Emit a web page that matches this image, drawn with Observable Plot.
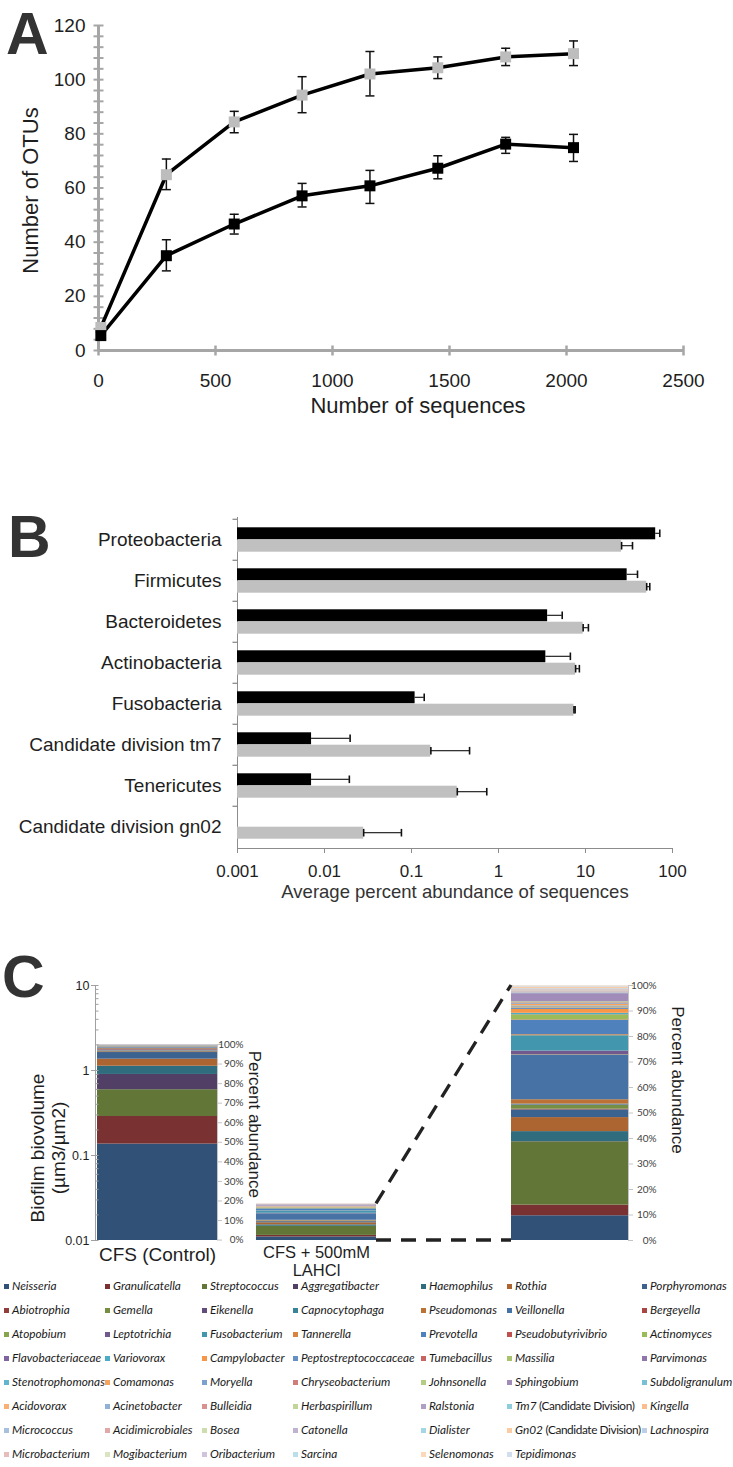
<!DOCTYPE html>
<html><head><meta charset="utf-8">
<script src="https://cdn.jsdelivr.net/npm/d3@7"></script>
<script src="https://cdn.jsdelivr.net/npm/@observablehq/plot@0.6"></script>
<style>
body{margin:0;background:#fff;}
#root{position:relative;width:733px;height:1467px;overflow:hidden;background:#fff;}
#root svg{position:absolute;left:0;overflow:visible;}
.lg{position:absolute;height:13px;line-height:13px;white-space:nowrap;font:italic 11.8px Lato,Carlito,Calibri,"Liberation Sans",sans-serif;color:#1a1a1a;}
.lg i{display:inline-block;width:5px;height:5px;margin-right:3px;vertical-align:1px;}
.lg span.n{font-style:normal;letter-spacing:-0.4px;}
</style></head><body><div id="root"></div>
<script>
// ---------------- Panel A data ----------------
const seqDepth   = [10, 290, 580, 870, 1160, 1450, 1740, 2030];
const otuGray    = [8.5, 64.9, 84.4, 94.3, 102.1, 104.4, 108.4, 109.6];
const otuGrayLo  = [8.5, 59.4, 80.4, 87.8, 94.0, 100.4, 105.2, 105.2];
const otuGrayHi  = [8.5, 70.7, 88.3, 101.1, 110.4, 108.4, 111.6, 114.3];
const otuBlack   = [5.5, 35.0, 46.7, 57.1, 60.8, 67.3, 76.2, 74.9];
const otuBlackLo = [5.5, 29.4, 43.0, 53.0, 54.3, 63.4, 72.8, 69.8];
const otuBlackHi = [5.5, 40.9, 50.3, 61.7, 66.5, 71.9, 78.7, 79.8];
const aTicksX = [0, 500, 1000, 1500, 2000, 2500];
const aTicksY = [0, 20, 40, 60, 80, 100, 120];
const aMinorY = [0,4,8,12,16,20,24,28,32,36,40,44,48,52,56,60,64,68,72,76,80,84,88,92,96,100,104,108,112,116,120];

// ---------------- Panel B data ----------------
const phyla = ["Proteobacteria","Firmicutes","Bacteroidetes","Actinobacteria","Fusobacteria","Candidate division tm7","Tenericutes","Candidate division gn02"];
const abundBlack = [64.1, 30.1, 3.67, 3.50, 0.110, 0.0071, 0.0071, null];
const errBlack   = [7.3, 9.5, 1.73, 3.2, 0.030, 0.0126, 0.0122, null];
const abundGray  = [26.0, 50.5, 9.4, 7.7, 7.37, 0.167, 0.336, 0.0282];
const errGray    = [8.7, 4.3, 1.4, 0.8, 0.23, 0.298, 0.397, 0.0484];
const bTicks = [0.001, 0.01, 0.1, 1, 10, 100];

// ---------------- Panel C data ----------------
const conditions = ["CFS (Control)", "CFS + 500mM\nLAHCl"];
const biovolume = [2.0, 0.027];
const volTicks = [0.01, 0.1, 1, 10];
const volMinor = [0.02,0.03,0.04,0.05,0.06,0.07,0.08,0.09,0.2,0.3,0.4,0.5,0.6,0.7,0.8,0.9,2,3,4,5,6,7,8,9];
const pctTicks = [0,10,20,30,40,50,60,70,80,90,100];
const genera = ["Neisseria","Granulicatella","Streptococcus","Aggregatibacter","Haemophilus","Rothia","Porphyromonas",
"Abiotrophia","Gemella","Eikenella","Capnocytophaga","Pseudomonas","Veillonella","Bergeyella",
"Atopobium","Leptotrichia","Fusobacterium","Tannerella","Prevotella","Pseudobutyrivibrio","Actinomyces",
"Flavobacteriaceae","Variovorax","Campylobacter","Peptostreptococcaceae","Tumebacillus","Massilia","Parvimonas",
"Stenotrophomonas","Comamonas","Moryella","Chryseobacterium","Johnsonella","Sphingobium","Subdoligranulum",
"Acidovorax","Acinetobacter","Bulleidia","Herbaspirillum","Ralstonia","Tm7 (Candidate Division)","Kingella",
"Micrococcus","Acidimicrobiales","Bosea","Catonella","Dialister","Gn02 (Candidate Division)","Lachnospira",
"Microbacterium","Mogibacterium","Oribacterium","Sarcina","Selenomonas","Tepidimonas"];
const genusColors = ["#325177","#793231","#627638","#513f66","#2f6c7d","#ac6530",
"#3c6290","#923d3b","#768e44","#614c7b","#398396","#bc7235",
"#4672a6","#a94644","#88a54e","#71588f","#4297ae","#d9843e",
"#4f81bd","#c0504d","#9bbb59","#8064a2","#4bacc6","#f79646",
"#6490c5","#c86562","#a7c36d","#8f77ad","#61b6cd","#f8a35c",
"#7ba1ce","#d07c7a","#b4cc83","#a08bb9","#78c1d4","#f9b074",
"#92b1d6","#d89391","#c1d598","#b09fc5","#8fccdc","#fabe8c",
"#a7c0de","#e0a8a6","#cdddac","#c0b2d1","#a5d6e3","#fbcba3",
"#bccfe6","#e7bdbb","#d9e5c0","#cfc4dc","#bbdfe9","#fcd7b9","#d1deee"];
const pctControl = [49.3,14.1,13.7,7.8,4.2,3.6,3.4,0.3,0.2,0.2,0.2,0.1,0.3,0.6,0.2,0.3,0.2,0.1,0.2,0.1,0.2,0.1,0.1,0.1,0.1,0,0.1,0.1,0,0,0,0,0,0.1,0,0,0,0,0,0,0,0,0,0,0,0,0,0,0,0,0,0,0,0,0];
const pctLahcl = [9.7,4.2,24.8,0.1,3.9,5.5,3.0,0.3,1.5,0.2,0.3,1.7,17.5,0.1,0.1,1.4,6.0,0.4,5.6,0.2,2.0,0.1,0.5,1.5,0.4,0.2,0.4,0.2,0.2,0.6,0.3,0.3,0.4,3.2,0.1,0.1,0.2,0.2,0.1,0.3,0.1,0.2,0.2,0.2,0.1,0.1,0.1,0.4,0.1,0.1,0.1,0.1,0.1,0.2,0.1];

// ---------------- styles / helpers ----------------
const FONT = "'Liberation Sans', Arial, Helvetica, sans-serif";
const SMALL = "Lato, Carlito, Calibri, 'Liberation Sans', sans-serif";
const INK = "#1e1e1e";
const AXA = "#a6a6a6";
const root = document.getElementById("root");
function place(el, top){ el.style.position = "absolute"; el.style.left = "0px"; el.style.top = top + "px"; root.appendChild(el); return el; }
const styleWith = color => ({fontFamily: FONT, color, background: "transparent", overflow: "visible"});
const sym = f => ({draw(ctx, size){ const w = Math.sqrt(size / Math.PI); f(ctx, w); }});
const hLine = sym((c, w) => { c.moveTo(-w, 0); c.lineTo(w, 0); });
const vLine = sym((c, w) => { c.moveTo(0, -w); c.lineTo(0, w); });
const tickRight = sym((c, w) => { c.moveTo(0, 0); c.lineTo(w, 0); });
const tickLeft = sym((c, w) => { c.moveTo(-w, 0); c.lineTo(0, 0); });
function scaleFn(plot, name){
  const s = plot.scale(name);
  if (s && typeof s.apply === "function") return v => s.apply(v);
  const d = s.type === "log" ? d3.scaleLog() : d3.scaleLinear();
  d.domain(s.domain).range(s.range);
  return v => d(v);
}

// ================= Panel A =================
const rowsA = seqDepth.map((x, i) => ({x, g: otuGray[i], gLo: otuGrayLo[i], gHi: otuGrayHi[i], b: otuBlack[i], bLo: otuBlackLo[i], bHi: otuBlackHi[i]}));
const errA = rowsA.filter(d => d.gHi > d.gLo);
const capA = {symbol: hLine, r: 4.5, stroke: "#111", strokeWidth: 1.5, fill: "none"};
const plotA = Plot.plot({
  width: 733, height: 450, marginLeft: 98, marginRight: 50, marginTop: 25, marginBottom: 100,
  x: {type: "linear", domain: [0, 2500], axis: null},
  y: {type: "linear", domain: [0, 120], axis: null},
  style: styleWith(INK),
  marks: [
    Plot.ruleX([0], {stroke: AXA, strokeWidth: 3}),
    Plot.ruleY([0], {stroke: AXA, strokeWidth: 3}),
    Plot.dot(aMinorY, {y: d => d, frameAnchor: "left", symbol: hLine, r: 5, stroke: AXA, strokeWidth: 2, fill: "none"}),
    Plot.dot(aTicksX, {x: d => d, frameAnchor: "bottom", symbol: vLine, r: 5, stroke: AXA, strokeWidth: 2.5, fill: "none"}),
    Plot.text(aTicksY, {y: d => d, text: d => String(d), frameAnchor: "left", textAnchor: "end", dx: -13, fontSize: 19, fill: INK}),
    Plot.text(aTicksX, {x: d => d, text: d => String(d), frameAnchor: "bottom", lineAnchor: "top", dy: 23, fontSize: 19, fill: INK}),
    Plot.text(["Number of sequences"], {text: d => d, frameAnchor: "bottom", textAnchor: "middle", dx: 27, dy: 62, fontSize: 22, fill: INK}),
    Plot.text(["Number of OTUs"], {text: d => d, frameAnchor: "left", textAnchor: "middle", rotate: -90, dx: -68, dy: 2.5, fontSize: 22, fill: INK}),
    Plot.ruleX(errA, {x: "x", y1: "gLo", y2: "gHi", stroke: "#111", strokeWidth: 1.5}),
    Plot.dot(errA, {x: "x", y: "gLo", ...capA}),
    Plot.dot(errA, {x: "x", y: "gHi", ...capA}),
    Plot.ruleX(errA, {x: "x", y1: "bLo", y2: "bHi", stroke: "#111", strokeWidth: 1.5}),
    Plot.dot(errA, {x: "x", y: "bLo", ...capA}),
    Plot.dot(errA, {x: "x", y: "bHi", ...capA}),
    Plot.line(rowsA, {x: "x", y: "g", stroke: "#000", strokeWidth: 3.5}),
    Plot.line(rowsA, {x: "x", y: "b", stroke: "#000", strokeWidth: 3.5}),
    Plot.dot(rowsA, {x: "x", y: "g", symbol: "square", r: 6.2, fill: "#bdbdbd"}),
    Plot.dot(rowsA, {x: "x", y: "b", symbol: "square", r: 6.2, fill: "#000"})
  ]
});
place(plotA, 0);

// ================= Panel B =================
const bBase = bTicks[0];
const rowsB = phyla.map((cat, i) => ({cat, b: abundBlack[i], bHi: abundBlack[i] == null ? null : abundBlack[i] + errBlack[i], g: abundGray[i], gHi: abundGray[i] + errGray[i]}));
const rowsBb = rowsB.filter(d => d.b != null);
const BAX = "#8c8c8c";
const BW = 41.4; // band height in px (layout)
const plotB = Plot.plot({
  width: 733, height: 440, marginLeft: 237, marginRight: 61, marginTop: 12, marginBottom: 97,
  x: {type: "log", domain: [0.001, 100], axis: "bottom", ticks: bTicks, tickSize: 5, tickFormat: () => "", line: true, label: null},
  y: {type: "band", domain: phyla, padding: 0, axis: "left", tickSize: 0, tickFormat: () => "", line: true, label: null},
  style: styleWith(BAX),
  marks: [
    Plot.barX(rowsBb, {y: "cat", x1: () => bBase, x2: "b", fill: "#000", insetTop: 8.3, insetBottom: 20.7}),
    Plot.barX(rowsB, {y: "cat", x1: () => bBase, x2: "g", fill: "#c0c0c0", insetTop: 20.7, insetBottom: 8.3}),
    Plot.barX(rowsBb, {y: "cat", x1: "b", x2: "bHi", fill: "#111", insetTop: 13.75, insetBottom: 26.15}),
    Plot.tickX(rowsBb, {y: "cat", x: "bHi", insetTop: 10.5, insetBottom: 22.9, stroke: "#111", strokeWidth: 1.6}),
    Plot.barX(rowsB, {y: "cat", x1: "g", x2: "gHi", fill: "#111", insetTop: 26.15, insetBottom: 13.75}),
    Plot.tickX(rowsB, {y: "cat", x: "gHi", insetTop: 22.9, insetBottom: 10.5, stroke: "#111", strokeWidth: 1.6}),
    Plot.tickX(rowsB, {y: "cat", x: "g", insetTop: 22.9, insetBottom: 10.5, stroke: "#111", strokeWidth: 1.6}),
    Plot.dot(phyla, {y: d => d, frameAnchor: "left", dy: -BW / 2, symbol: tickLeft, r: 5, stroke: BAX, strokeWidth: 1.3, fill: "none"}),
    Plot.text(bTicks, {x: d => d, text: d => String(d), frameAnchor: "bottom", lineAnchor: "top", dy: 16, fontSize: 17, fill: INK}),
    Plot.text(phyla, {y: d => d, text: d => d, frameAnchor: "left", textAnchor: "end", dx: -16, fontSize: 19, fill: INK}),
    Plot.text(["Average percent abundance of sequences"], {text: d => d, frameAnchor: "bottom", textAnchor: "middle", dy: 49, fontSize: 18.5, fill: "#333"})
  ]
});
place(plotB, 505);

// ================= Panel C =================
const VMIN = volTicks[0];
const C_XR = [97, 376], C_PI = 0.245;
const bandC = d3.scaleBand().domain(conditions).range(C_XR).paddingInner(C_PI).paddingOuter(0);
const colorC = {domain: genera, range: genusColors};
function stackRows(cond, pcts, mapY){
  const cum = d3.cumsum(pcts);
  return genera.map((genus, i) => ({cond, genus, p0: cum[i] - pcts[i], p1: cum[i]}))
    .filter(d => d.p1 > d.p0)
    .map(d => ({...d, y1: mapY(d.p0), y2: mapY(d.p1)}));
}
const geo = vol => p => VMIN * Math.pow(vol / VMIN, p / 100);
const rowsC = [
  ...stackRows(conditions[0], pctControl, geo(biovolume[0])),
  ...stackRows(conditions[1], pctLahcl, geo(biovolume[1]))
];
const C1_TOP = 940;
const CAX = "#a0a0a0";
const plotC1 = Plot.plot({
  width: 733, height: 360, marginLeft: 95, marginRight: 357, marginTop: 45, marginBottom: 60,
  x: {type: "band", domain: conditions, range: C_XR, paddingInner: C_PI, paddingOuter: 0, round: false, axis: null},
  y: {type: "log", domain: [0.01, 10], axis: "left", ticks: volTicks, tickSize: 4, tickFormat: () => "", line: true, label: null},
  color: colorC,
  style: styleWith(CAX),
  marks: [
    Plot.barY(rowsC, {x: "cond", y1: "y1", y2: "y2", fill: "genus"}),
    Plot.dot(volMinor, {y: d => d, frameAnchor: "left", symbol: tickRight, r: 3, stroke: CAX, strokeWidth: 1, fill: "none"}),
    Plot.dot(volTicks, {y: d => d, frameAnchor: "left", symbol: tickRight, r: 3, stroke: CAX, strokeWidth: 1, fill: "none"}),
    Plot.text(volTicks, {y: d => d, text: d => String(d), frameAnchor: "left", textAnchor: "end", dx: -6, fontSize: 12.5, fill: INK}),
    Plot.text(["Biofilm biovolume\n(µm3/µm2)"], {text: d => d, frameAnchor: "left", textAnchor: "middle", rotate: -90, dx: -48, dy: 35, lineHeight: 1.1, fontSize: 19, fill: INK}),
    Plot.text([conditions[0]], {x: d => d, text: d => d, frameAnchor: "bottom", lineAnchor: "top", dy: 7, fontSize: 19, fill: INK}),
    Plot.text([conditions[1]], {x: d => d, text: d => d, frameAnchor: "bottom", lineAnchor: "top", dy: 5, fontSize: 16.5, lineHeight: 1.09, fill: INK})
  ]
});
place(plotC1, C1_TOP);

// percent axis for the control bar, aligned through the log scale
const yC1 = scaleFn(plotC1, "y");
const ctlRight = bandC(conditions[0]) + bandC.bandwidth();
const ctlTop = C1_TOP + yC1(biovolume[0]);
const ctlBot = C1_TOP + yC1(VMIN);
const PAX = "#c4c4c4";
const pctAxisY = {type: "linear", domain: [0, 100], axis: "right", ticks: pctTicks, tickSize: 4, tickFormat: () => "", line: true, label: null};
const plotCL = Plot.plot({
  width: 733, height: (ctlBot - ctlTop) + 40, marginTop: 20, marginBottom: 20, marginLeft: 0, marginRight: 733 - ctlRight,
  y: pctAxisY,
  style: styleWith(PAX),
  marks: [
    Plot.text(pctTicks, {y: d => d, text: d => d + "%", frameAnchor: "right", textAnchor: "end", dx: 26, fontSize: 10, fontFamily: SMALL, fill: "#404040"}),
    Plot.text(["Percent abundance"], {text: d => d, frameAnchor: "right", textAnchor: "middle", rotate: 90, dx: 37, dy: -18, fontSize: 17, fill: INK})
  ]
});
place(plotCL, ctlTop - 20);

// expanded view of the LAHCl bar
const rowsR = stackRows(conditions[1], pctLahcl, p => p);
const CR_TOP = 940;
const ZR = [511, 628];
const bandR = d3.scaleBand().domain([conditions[1]]).range(ZR).padding(0);
const plotCR = Plot.plot({
  width: 733, height: 360, marginTop: 45, marginBottom: 60, marginLeft: 0, marginRight: 733 - ZR[1],
  x: {type: "band", domain: [conditions[1]], range: ZR, padding: 0, round: false, axis: null},
  y: pctAxisY,
  color: colorC,
  style: styleWith(PAX),
  marks: [
    Plot.barY(rowsR, {x: "cond", y1: "y1", y2: "y2", fill: "genus"}),
    Plot.text(pctTicks, {y: d => d, text: d => d + "%", frameAnchor: "right", textAnchor: "end", dx: 28, fontSize: 10, fontFamily: SMALL, fill: "#404040"}),
    Plot.text(["Percent abundance"], {text: d => d, frameAnchor: "right", textAnchor: "middle", rotate: 90, dx: 49, dy: -33, fontSize: 17, fill: INK})
  ]
});
place(plotCR, CR_TOP);

// connectors + panel letters
const yCR = scaleFn(plotCR, "y");
const midRight = bandC(conditions[1]) + bandC.bandwidth();
const midTop = C1_TOP + yC1(biovolume[1]);
const midBot = C1_TOP + yC1(VMIN);
const zLeft = bandR(conditions[1]);
const zTop = CR_TOP + yCR(100);
const zBot = CR_TOP + yCR(0);
const ov = d3.create("svg").attr("width", 733).attr("height", 1467).style("pointer-events", "none");
ov.selectAll("line").data([[midTop, zTop], [midBot, zBot]]).join("line")
  .attr("x1", midRight).attr("y1", d => d[0]).attr("x2", zLeft).attr("y2", d => d[1])
  .attr("stroke", "#222").attr("stroke-width", 3.3).attr("stroke-dasharray", "15 10");
const letters = [["A", 6, 54], ["B", 8, 557], ["C", 2, 997]];
ov.selectAll("text").data(letters).join("text")
  .attr("x", d => d[1]).attr("y", d => d[2]).text(d => d[0])
  .attr("font-family", FONT).attr("font-weight", "bold").attr("font-size", 59).attr("fill", "#333");
place(ov.node(), 0);

// legend (7 columns, row-major, same order as the stacks)
const legCols = [4, 105, 202, 293, 421, 507, 642];
const legRow0 = 1277.5, legStep = 24;
genera.forEach((g, i) => {
  const c = i % 7, r = Math.floor(i / 7);
  const div = document.createElement("div");
  div.className = "lg";
  div.style.left = legCols[c] + "px";
  div.style.top = (legRow0 + r * legStep) + "px";
  const sw = document.createElement("i");
  sw.style.background = genusColors[i];
  div.appendChild(sw);
  const k = g.indexOf(" (");
  const t1 = document.createElement("span");
  t1.textContent = k > 0 ? g.slice(0, k) : g;
  div.appendChild(t1);
  if (k > 0) { const t2 = document.createElement("span"); t2.className = "n"; t2.textContent = g.slice(k); div.appendChild(t2); }
  root.appendChild(div);
});
</script></body></html>
